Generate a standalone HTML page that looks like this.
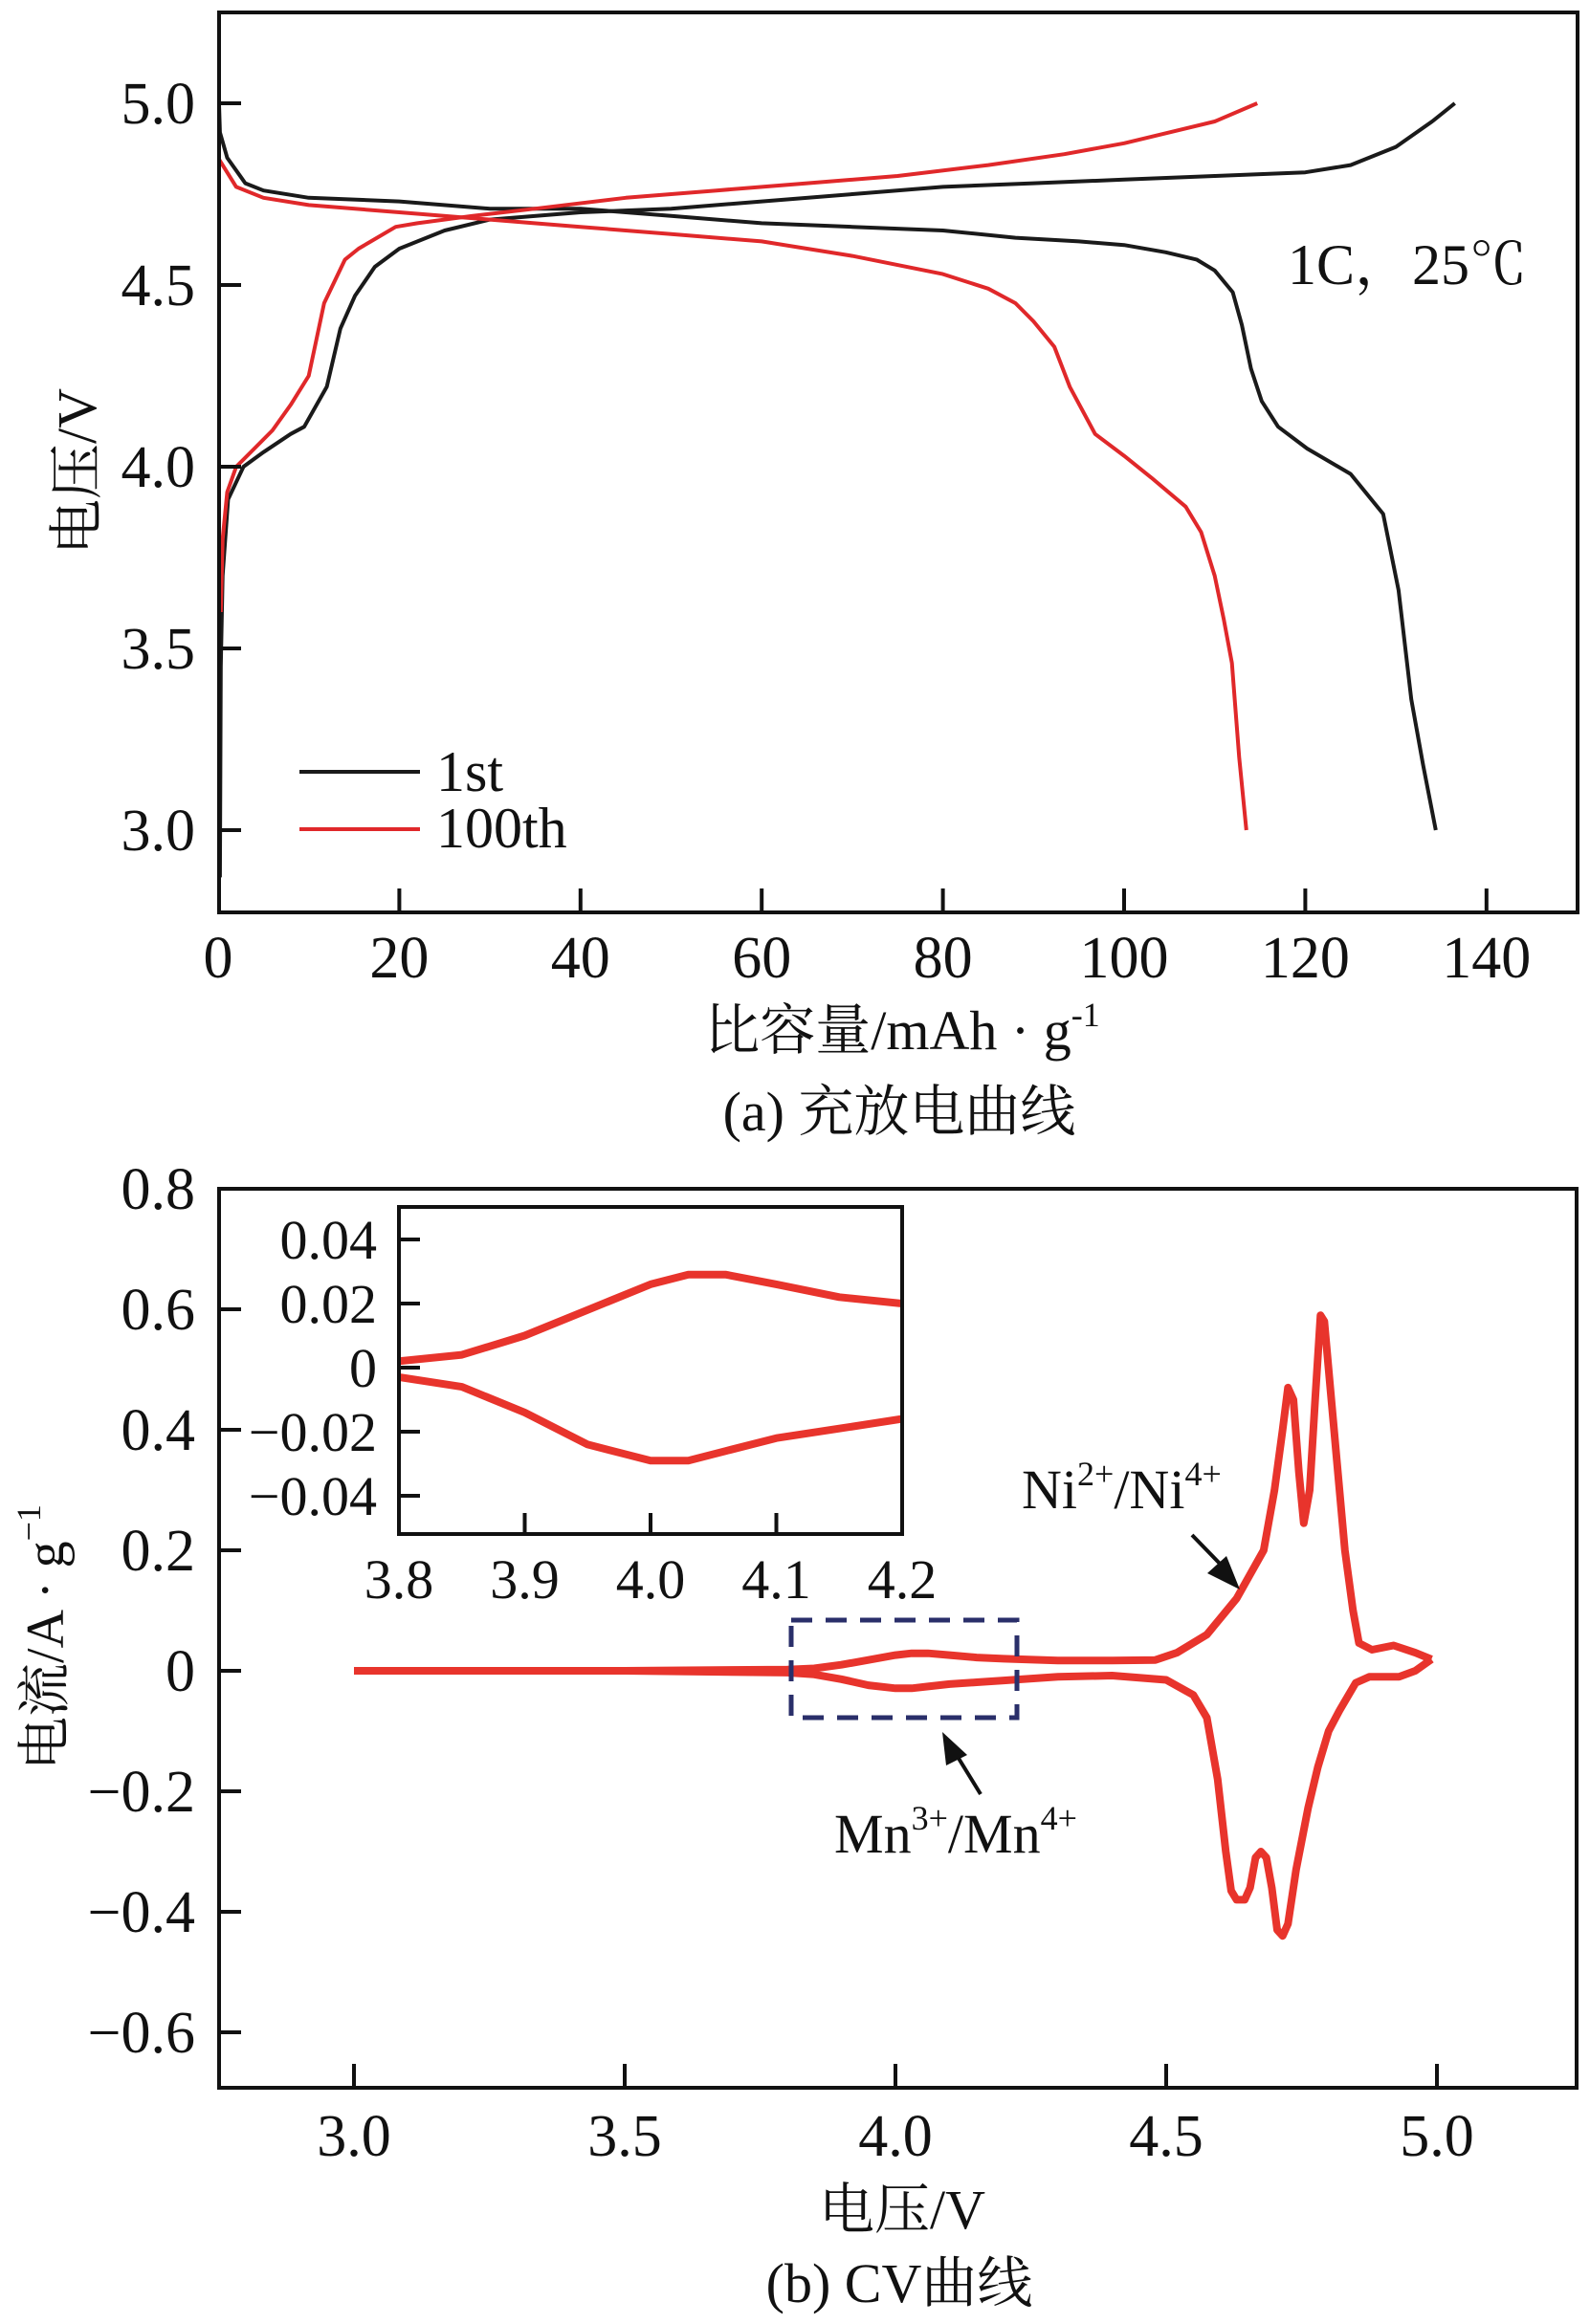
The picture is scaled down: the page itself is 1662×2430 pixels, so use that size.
<!DOCTYPE html>
<html><head><meta charset="utf-8">
<style>
html,body{margin:0;padding:0;background:#fff;width:1662px;height:2430px;overflow:hidden;}
svg{display:block;vertical-align:top;}
text{font-family:"Liberation Serif","Noto Serif CJK SC",serif;fill:#111;}
.cj{font-family:"Liberation Serif","Noto Serif CJK SC","Noto Sans CJK SC",serif;}
</style></head>
<body>
<svg id="fig" width="1662" height="2430" viewBox="0 0 1662 2430" xmlns="http://www.w3.org/2000/svg">
<defs>
<clipPath id="clipA"><rect x="229" y="13" width="1420" height="941"/></clipPath>
<clipPath id="clipB"><rect x="229" y="1243" width="1419" height="940"/></clipPath>
<clipPath id="clipIn"><rect x="417" y="1262" width="526" height="342"/></clipPath>
</defs>
<g id="chartA"></g>
<g id="chartB"></g>
</svg>
<script>
// ---------- Chart (a) data ----------
const aXTicks = [0,20,40,60,80,100,120,140];
const aYTicks = [3.0,3.5,4.0,4.5,5.0];
const c1Cap = [0.2,0.3,0.5,1.1,2.8,5,8,9.5,12,13.5,15.1,17.3,20,25,30,40,50,60,70,80,90,100,110,120,125,130,134,136.5];
const c1V   = [2.87,3.45,3.7,3.91,4.0,4.04,4.09,4.11,4.22,4.38,4.47,4.55,4.6,4.65,4.68,4.7,4.71,4.73,4.75,4.77,4.78,4.79,4.8,4.81,4.83,4.88,4.95,5.0];
const d1Cap = [0,0.2,1,3,5,10,20,30,40,50,60,70,80,88,95,100,104.6,108,110,112,113,114,115.2,117,120.2,125,128.6,130.3,131.7,133,134.4];
const d1V   = [5.08,4.92,4.85,4.78,4.76,4.74,4.73,4.71,4.71,4.69,4.67,4.66,4.65,4.63,4.62,4.61,4.59,4.57,4.54,4.48,4.39,4.27,4.18,4.11,4.05,3.98,3.87,3.66,3.36,3.18,3.0];
const c100Cap = [0.3,0.5,1,2,4,6,8,10,11.7,14,15.5,19.6,22,28,35,45,55,65,75,85,93.4,100,105,110,114.7];
const c100V   = [3.6,3.8,3.93,4.0,4.05,4.1,4.17,4.25,4.45,4.57,4.6,4.66,4.67,4.69,4.71,4.74,4.76,4.78,4.8,4.83,4.86,4.89,4.92,4.95,5.0];
const d100Cap = [0,2,5,10,20,30,40,50,60,70,80,85,88,90,92.3,94,96.8,100,103,106.8,108.5,110,111,111.9,112.7,113.5];
const d100V   = [4.85,4.77,4.74,4.72,4.7,4.68,4.66,4.64,4.62,4.58,4.53,4.49,4.45,4.4,4.33,4.22,4.09,4.03,3.97,3.89,3.82,3.7,3.58,3.46,3.2,3.0];

// ---------- Chart (b) data ----------
const bXTicks = [3.0,3.5,4.0,4.5,5.0];
const bYTicks = [0.8,0.6,0.4,0.2,0,-0.2,-0.4,-0.6];
const bYLabels = ["0.8","0.6","0.4","0.2","0","\u22120.2","\u22120.4","\u22120.6"];
const inXTicks = [3.8,3.9,4.0,4.1,4.2];
const inYTicks = [0.04,0.02,0,-0.02,-0.04];
const inYLabels = ["0.04","0.02","0","\u22120.02","\u22120.04"];
const cvUpperV = [3.0,3.5,3.8,3.85,3.9,3.95,4.0,4.03,4.06,4.1,4.15,4.2,4.3,4.4,4.48,4.52,4.575,4.63,4.68,4.70,4.715,4.725,4.735,4.745,4.754,4.765,4.775,4.785,4.792,4.80,4.815,4.83,4.845,4.856,4.88,4.92,4.96,4.99];
const cvUpperI = [0.0,0.0,0.002,0.004,0.01,0.018,0.026,0.029,0.029,0.026,0.022,0.02,0.017,0.017,0.018,0.03,0.06,0.12,0.2,0.3,0.4,0.47,0.45,0.33,0.245,0.3,0.45,0.59,0.58,0.5,0.35,0.2,0.1,0.046,0.035,0.042,0.03,0.019];
const cvLowerV = [4.99,4.96,4.93,4.875,4.85,4.82,4.8,4.78,4.762,4.74,4.725,4.715,4.705,4.695,4.685,4.675,4.665,4.655,4.645,4.63,4.62,4.61,4.595,4.575,4.55,4.5,4.4,4.3,4.2,4.15,4.1,4.06,4.03,4.0,3.95,3.9,3.85,3.8,3.5,3.0];
const cvLowerI = [0.019,0.0,-0.01,-0.01,-0.02,-0.066,-0.1,-0.16,-0.228,-0.33,-0.42,-0.44,-0.43,-0.36,-0.31,-0.30,-0.31,-0.36,-0.38,-0.38,-0.365,-0.3,-0.18,-0.078,-0.04,-0.015,-0.008,-0.01,-0.016,-0.019,-0.022,-0.026,-0.029,-0.029,-0.024,-0.014,-0.006,-0.003,0.0,0.0];

const NS = "http://www.w3.org/2000/svg";
function mk(parent, tag, attrs, txt){
  const e = document.createElementNS(NS, tag);
  for (const k in attrs) e.setAttribute(k, attrs[k]);
  if (txt !== undefined) e.textContent = txt;
  parent.appendChild(e);
  return e;
}
function pathFrom(xs, ys, fx, fy){
  let d = "";
  for (let i=0;i<xs.length;i++) d += (i?"L":"M") + fx(xs[i]).toFixed(1) + "," + fy(ys[i]).toFixed(1);
  return d;
}

// ===== Chart (a) =====
const A = document.getElementById("chartA");
const ax = v => 228 + v*9.47;
const ay = v => 108 + (5 - v)*380;
const gA = mk(A,"g",{"clip-path":"url(#clipA)"});


const seriesA = [
  [c1Cap,c1V,"#1a1a1a","charge-1st"],
  [d1Cap,d1V,"#1a1a1a","discharge-1st"],
  [c100Cap,c100V,"#e0282a","charge-100th"],
  [d100Cap,d100V,"#e0282a","discharge-100th"]
];
for (const s of seriesA){
  const p = mk(gA,"path",{d:pathFrom(s[0],s[1],ax,ay),fill:"none",stroke:s[2],"stroke-width":4,"stroke-linejoin":"round"});
  
  
}
const fA = mk(A,"rect",{x:229,y:13,width:1420,height:941,fill:"none",stroke:"#111","stroke-width":4});


for (const t of aXTicks){
  const x = ax(t);
  if (t>0){
    const tk = mk(A,"line",{x1:x,y1:954,x2:x,y2:929,stroke:"#111","stroke-width":4});
    
    
  }
  const tl = mk(A,"text",{x:x,y:1022,"font-size":62,"text-anchor":"middle"},String(t));
  
  
}
for (const t of aYTicks){
  const y = ay(t);
  const tk = mk(A,"line",{x1:229,y1:y,x2:252,y2:y,stroke:"#111","stroke-width":4});
  
  
  const tl = mk(A,"text",{x:204,y:y+21,"font-size":62,"text-anchor":"end"},t.toFixed(1));
  
  
}
// legend
const lg = mk(A,"g",{});


mk(lg,"line",{x1:313,y1:807,x2:439,y2:807,stroke:"#1a1a1a","stroke-width":4});
mk(lg,"line",{x1:313,y1:867,x2:439,y2:867,stroke:"#e0282a","stroke-width":4});
const l1 = mk(lg,"text",{x:456,y:827,"font-size":60},"1st");


const l2 = mk(lg,"text",{x:456,y:886,"font-size":60},"100th");


const cond = mk(A,"text",{x:1346,y:297,"font-size":60,"class":"cj"},"1C，25℃");


const xtA = mk(A,"text",{x:943,y:1097,"font-size":58,"text-anchor":"middle","class":"cj"});


mk(xtA,"tspan",{},"比容量/mAh · g");
mk(xtA,"tspan",{"font-size":36,dy:-24},"-1");
const ytA = mk(A,"text",{x:0,y:0,"font-size":58,"text-anchor":"middle","class":"cj",transform:"translate(100,493) rotate(-90)"},"电压/V");


const capA = mk(A,"text",{x:940,y:1182,"font-size":58,"text-anchor":"middle","class":"cj"},"(a) 充放电曲线");



// ===== Chart (b) =====
const B = document.getElementById("chartB");
const bx = v => 370 + (v-3)*566;
const by = v => 1747 - v*630;
const gB = mk(B,"g",{"clip-path":"url(#clipB)"});


const pu = mk(gB,"path",{d:pathFrom(cvUpperV,cvUpperI,bx,by),fill:"none",stroke:"#e8342c","stroke-width":8,"stroke-linejoin":"round"});


const pl = mk(gB,"path",{d:pathFrom(cvLowerV,cvLowerI,bx,by),fill:"none",stroke:"#e8342c","stroke-width":8,"stroke-linejoin":"round"});


const fB = mk(B,"rect",{x:229,y:1243,width:1419,height:940,fill:"none",stroke:"#111","stroke-width":4});


for (const t of bXTicks){
  const x = bx(t);
  const tk = mk(B,"line",{x1:x,y1:2183,x2:x,y2:2158,stroke:"#111","stroke-width":4});
  
  
  const tl = mk(B,"text",{x:x,y:2254,"font-size":62,"text-anchor":"middle"},t.toFixed(1));
  
  
}
bYTicks.forEach((t,i)=>{
  const y = by(t);
  if (t < 0.8){
    const tk = mk(B,"line",{x1:229,y1:y,x2:252,y2:y,stroke:"#111","stroke-width":4});
    
    
  }
  const tl = mk(B,"text",{x:204,y:y+21,"font-size":62,"text-anchor":"end"},bYLabels[i]);
  
  
});
// dashed box
const box = mk(B,"rect",{x:827,y:1694,width:236,height:102,fill:"none",stroke:"#2a2f6a","stroke-width":5,"stroke-dasharray":"22,14"});


// inset
const ix = v => 417 + (v-3.8)*1315;
const iy = v => 1430 - v*3350;
const inset = mk(B,"g",{});


mk(inset,"rect",{x:417,y:1262,width:526,height:342,fill:"#fff"});
const gi = mk(inset,"g",{"clip-path":"url(#clipIn)"});
const iu = mk(gi,"path",{d:pathFrom(cvUpperV,cvUpperI,ix,iy),fill:"none",stroke:"#e8342c","stroke-width":8,"stroke-linejoin":"round"});


const il = mk(gi,"path",{d:pathFrom(cvLowerV,cvLowerI,ix,iy),fill:"none",stroke:"#e8342c","stroke-width":8,"stroke-linejoin":"round"});


const fi = mk(inset,"rect",{x:417,y:1262,width:526,height:342,fill:"none",stroke:"#111","stroke-width":4});


for (const t of inXTicks){
  const x = ix(t);
  if (t>3.8 && t<4.2){
    const tk = mk(inset,"line",{x1:x,y1:1604,x2:x,y2:1582,stroke:"#111","stroke-width":4});
    
    
  }
  const tl = mk(inset,"text",{x:x,y:1671,"font-size":58,"text-anchor":"middle"},t.toFixed(1));
  
  
}
inYTicks.forEach((t,i)=>{
  const y = iy(t);
  const tk = mk(inset,"line",{x1:417,y1:y,x2:439,y2:y,stroke:"#111","stroke-width":4});
  
  
  const tl = mk(inset,"text",{x:394,y:y+20,"font-size":58,"text-anchor":"end"},inYLabels[i]);
  
  
});
// annotations
const ni = mk(B,"text",{x:1068,y:1577,"font-size":58});


mk(ni,"tspan",{},"Ni");
mk(ni,"tspan",{"font-size":36,dy:-24},"2+");
mk(ni,"tspan",{dy:24},"/Ni");
mk(ni,"tspan",{"font-size":36,dy:-24},"4+");
const mn = mk(B,"text",{x:872,y:1937,"font-size":58});


mk(mn,"tspan",{},"Mn");
mk(mn,"tspan",{"font-size":36,dy:-24},"3+");
mk(mn,"tspan",{dy:24},"/Mn");
mk(mn,"tspan",{"font-size":36,dy:-24},"4+");
const a1 = mk(B,"g",{});


mk(a1,"line",{x1:1246,y1:1605,x2:1280,y2:1640,stroke:"#111","stroke-width":4});
mk(a1,"polygon",{points:"1296,1662 1262,1645 1282,1627",fill:"#111"});
const a2 = mk(B,"g",{});


mk(a2,"line",{x1:1025,y1:1876,x2:998,y2:1832,stroke:"#111","stroke-width":4});
mk(a2,"polygon",{points:"985,1811 1011,1835 989,1846",fill:"#111"});
const xtB = mk(B,"text",{x:943,y:2330,"font-size":58,"text-anchor":"middle","class":"cj"},"电压/V");


const ytB = mk(B,"text",{x:0,y:0,"font-size":56,"text-anchor":"middle","class":"cj",transform:"translate(66,1712) rotate(-90)"});


mk(ytB,"tspan",{},"电流/A · g");
mk(ytB,"tspan",{"font-size":36,dy:-24},"−1");
const capB = mk(B,"text",{x:940,y:2407,"font-size":58,"text-anchor":"middle","class":"cj"},"(b) CV曲线");


</script>
</body></html>
